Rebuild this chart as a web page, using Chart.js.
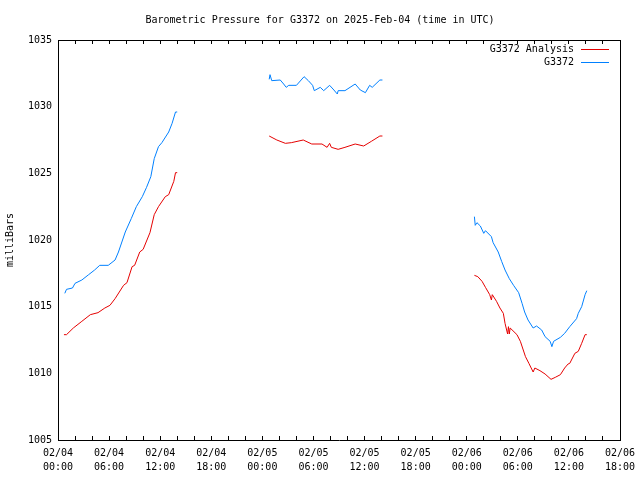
<!DOCTYPE html>
<html>
<head>
<meta charset="utf-8">
<script src="https://cdn.jsdelivr.net/npm/chart.js@4"></script>
<style>
    body { margin: 0; background: #fff; }
    canvas { display: block; }
</style>
</head>
<body>
<canvas id="pressureChart" width="640" height="480"></canvas>
<script>
// Hours since 02/04 00:00 UTC; null marks a gap between runs
const analysisHours = [
    0.7, 1.0, 1.8, 2.8, 3.8, 4.7, 5.5, 6.1, 6.7, 7.7, 8.1, 8.7, 9.0, 9.6, 10.0, 10.8, 11.3, 11.8, 12.6, 13.0, 13.6, 13.8, 14.0,
    20,
    24.8, 25.7, 26.7, 27.4, 28.8, 29.8, 31.0, 31.6, 31.9, 32.1, 32.9, 33.7, 34.9, 35.9, 36.8, 37.8, 38.1,
    44,
    48.9, 49.3, 49.8, 50.2, 50.7, 50.9, 51.0, 51.5, 51.9, 52.3, 52.5, 52.8, 52.9, 53.0, 53.1, 53.9, 54.3, 54.9, 55.3,
    55.8, 56.0, 56.6, 57.2, 57.9, 58.4, 59.0, 59.5, 59.9, 60.1, 60.7, 61.1, 61.5, 61.9, 62.1
];
const analysisValues = [
    1012.9, 1012.9, 1013.4, 1013.9, 1014.4, 1014.55, 1014.9, 1015.1, 1015.6, 1016.6, 1016.8, 1018.0, 1018.1, 1019.1,
    1019.3, 1020.55, 1021.9, 1022.5, 1023.25, 1023.4, 1024.4, 1025.05, 1025.05,
    null,
    1027.8, 1027.5, 1027.25, 1027.3, 1027.5, 1027.2, 1027.2, 1026.95, 1027.25, 1026.95, 1026.8, 1026.95, 1027.2,
    1027.05, 1027.4, 1027.8, 1027.8,
    null,
    1017.35, 1017.25, 1016.9, 1016.45, 1015.9, 1015.5, 1015.9, 1015.4, 1014.9, 1014.5, 1013.75, 1012.95, 1013.5,
    1012.95, 1013.4, 1012.9, 1012.4, 1011.25, 1010.75, 1010.1, 1010.4, 1010.2, 1009.95, 1009.55, 1009.7, 1009.9,
    1010.4, 1010.7, 1010.75, 1011.5, 1011.65, 1012.25, 1012.9, 1012.9
];

const stationHours = [
    0.8, 1.0, 1.7, 2.0, 2.8, 3.6, 4.3, 4.9, 5.9, 6.7, 7.1, 7.9, 8.6, 9.2, 9.9, 10.4, 10.9, 11.3, 11.8, 12.2, 13.0, 13.4, 13.8, 14.0,
    20,
    24.8, 24.9, 25.1, 26.1, 26.5, 26.8, 27.1, 28.0, 28.9, 29.4, 29.9, 30.1, 30.8, 31.2, 31.9, 32.4, 32.8, 32.9, 33.7,
    34.9, 35.5, 36.1, 36.6, 36.9, 37.8, 38.1,
    44,
    48.9, 49.0, 49.2, 49.6, 50.0, 50.2, 50.9, 51.1, 51.7, 52.1, 52.5, 53.0, 53.5, 54.1, 54.5, 54.8, 55.2, 55.8, 56.2,
    56.8, 57.2, 57.8, 58.0, 58.2, 59.0, 59.5, 60.1, 60.9, 61.1, 61.5, 61.9, 62.1
];
const stationValues = [
    1016.0, 1016.3, 1016.4, 1016.75, 1017.0, 1017.4, 1017.75, 1018.1, 1018.1, 1018.5, 1019.1, 1020.6, 1021.6, 1022.5,
    1023.25, 1023.95, 1024.75, 1026.1, 1027.0, 1027.3, 1028.1, 1028.75, 1029.6, 1029.6,
    null,
    1032.05, 1032.4, 1031.95, 1032.0, 1031.7, 1031.45, 1031.6, 1031.6, 1032.25, 1031.95, 1031.6, 1031.2, 1031.45,
    1031.2, 1031.6, 1031.25, 1030.95, 1031.2, 1031.2, 1031.7, 1031.25, 1031.05, 1031.6, 1031.45, 1032.0, 1032.0,
    null,
    1021.75, 1021.1, 1021.3, 1021.05, 1020.5, 1020.7, 1020.25, 1019.8, 1019.1, 1018.4, 1017.75, 1017.1, 1016.6,
    1016.05, 1015.25, 1014.6, 1014.0, 1013.4, 1013.55, 1013.25, 1012.75, 1012.4, 1012.0, 1012.4, 1012.7, 1013.0,
    1013.5, 1014.1, 1014.5, 1015.0, 1015.9, 1016.2
];

// Tick labels
const dayLabels = ['02/04', '02/05', '02/06'];
const hourLabels = ['00:00', '06:00', '12:00', '18:00'];

const FONT = { family: "'DejaVu Sans Mono', 'Liberation Mono', monospace", size: 10 };

function toPoints(hours, values) {
    return hours.map((h, i) => ({ x: h, y: values[i] }));
}

// gnuplot-style legend: text, then a line sample to its right
const legendPlugin = {
    id: 'gnuLegend',
    afterDatasetsDraw(chart) {
        const ctx = chart.ctx;
        const area = chart.chartArea;
        ctx.save();
        ctx.font = '10px ' + FONT.family;
        ctx.textAlign = 'right';
        ctx.textBaseline = 'middle';
        chart.data.datasets.forEach((ds, i) => {
            const y = area.top + 9.5 + i * 13;
            ctx.fillStyle = '#000';
            ctx.fillText(ds.label, area.right - 46, y);
            ctx.strokeStyle = ds.borderColor;
            ctx.lineWidth = 1;
            ctx.beginPath();
            ctx.moveTo(area.right - 39, y);
            ctx.lineTo(area.right - 11, y);
            ctx.stroke();
        });
        ctx.restore();
    }
};

// keep the plot box fixed: no extra room for overhanging labels
function noSidePadding(s) {
    s.paddingLeft = 0;
    s.paddingRight = 0;
}

const ctx = document.getElementById('pressureChart').getContext('2d');
new Chart(ctx, {
    type: 'line',
    data: {
        datasets: [
            {
                label: 'G3372 Analysis',
                data: toPoints(analysisHours, analysisValues),
                borderColor: '#e50000',
                borderWidth: 1,
                pointRadius: 0,
                tension: 0,
                spanGaps: false
            },
            {
                label: 'G3372',
                data: toPoints(stationHours, stationValues),
                borderColor: '#0080ff',
                borderWidth: 1,
                pointRadius: 0,
                tension: 0,
                spanGaps: false
            }
        ]
    },
    options: {
        responsive: false,
        animation: false,
        layout: { padding: 0 },
        plugins: {
            legend: { display: false },
            tooltip: { enabled: false },
            title: {
                display: true,
                text: 'Barometric Pressure for G3372 on 2025-Feb-04 (time in UTC)',
                font: { ...FONT, weight: 'normal' },
                color: '#000',
                padding: { top: 14, bottom: 14 }
            }
        },
        scales: {
            x: {
                type: 'linear',
                position: 'bottom',
                min: 0,
                max: 66,
                ticks: {
                    stepSize: 2,
                    autoSkip: false,
                    maxRotation: 0,
                    padding: 10,
                    color: '#000',
                    font: { ...FONT, lineHeight: 1.4 },
                    callback: v => v % 6 === 0
                        ? [dayLabels[Math.floor(v / 24)], hourLabels[(v % 24) / 6]]
                        : ''
                },
                grid: { drawOnChartArea: false, tickLength: -4, color: '#000' },
                border: { color: '#000', width: 1 },
                afterFit: s => { s.height = 40; noSidePadding(s); }
            },
            xTop: {
                type: 'linear',
                position: 'top',
                min: 0,
                max: 66,
                ticks: { display: false, stepSize: 2, autoSkip: false },
                grid: { drawOnChartArea: false, tickLength: -4, color: '#000' },
                border: { color: '#000', width: 1 },
                afterFit: s => { s.height = 0; noSidePadding(s); }
            },
            y: {
                position: 'left',
                min: 1005,
                max: 1035,
                ticks: { stepSize: 5, padding: 6, color: '#000', font: FONT, callback: v => String(v) },
                grid: { drawOnChartArea: false, drawTicks: false },
                border: { color: '#000', width: 1 },
                title: {
                    display: true,
                    text: 'milliBars',
                    color: '#000',
                    font: FONT,
                    padding: { top: 4, bottom: 0 }
                },
                afterFit: s => { s.width = 58; }
            },
            yRight: {
                position: 'right',
                min: 1005,
                max: 1035,
                ticks: { display: false },
                grid: { drawOnChartArea: false, drawTicks: false },
                border: { color: '#000', width: 1 },
                afterFit: s => { s.width = 20; }
            }
        }
    },
    plugins: [legendPlugin]
});
</script>
</body>
</html>
